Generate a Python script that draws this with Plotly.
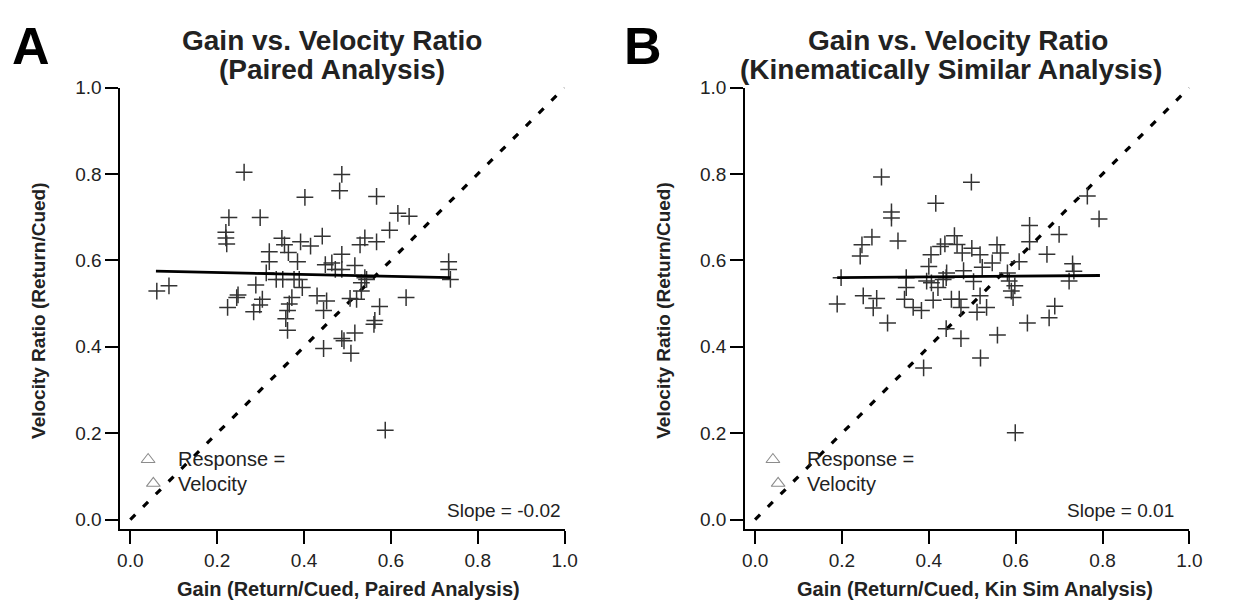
import plotly.graph_objects as go

# ---------------- data ----------------
a_gain = [0.262, 0.402, 0.227, 0.299, 0.220, 0.220, 0.222, 0.061, 0.089, 0.349, 0.355, 0.364,
          0.392, 0.415, 0.442, 0.320, 0.320, 0.385, 0.313, 0.449, 0.289, 0.336, 0.351, 0.377,
          0.389, 0.396, 0.248, 0.245, 0.224, 0.304, 0.298, 0.284, 0.372, 0.366, 0.362, 0.358,
          0.362, 0.430, 0.445, 0.452, 0.445, 0.487, 0.482, 0.567, 0.616, 0.642, 0.597, 0.540,
          0.529, 0.567, 0.487, 0.464, 0.472, 0.487, 0.517, 0.733, 0.733, 0.737, 0.540, 0.532,
          0.544, 0.532, 0.506, 0.521, 0.635, 0.574, 0.563, 0.561, 0.517, 0.487, 0.492, 0.508,
          0.587]
a_vr = [0.804, 0.746, 0.699, 0.699, 0.665, 0.652, 0.638, 0.529, 0.541, 0.651, 0.636, 0.618,
        0.643, 0.633, 0.656, 0.620, 0.597, 0.597, 0.571, 0.590, 0.543, 0.556, 0.556, 0.556,
        0.556, 0.537, 0.520, 0.514, 0.491, 0.510, 0.497, 0.481, 0.514, 0.499, 0.484, 0.465,
        0.438, 0.518, 0.484, 0.506, 0.396, 0.799, 0.761, 0.748, 0.709, 0.702, 0.670, 0.652,
        0.636, 0.643, 0.614, 0.594, 0.579, 0.579, 0.588, 0.597, 0.579, 0.556, 0.560, 0.548,
        0.556, 0.529, 0.512, 0.510, 0.514, 0.493, 0.461, 0.452, 0.432, 0.419, 0.414, 0.385,
        0.207]

b_gain = [0.291, 0.416, 0.314, 0.314, 0.269, 0.246, 0.242, 0.329, 0.427, 0.437, 0.405, 0.400,
          0.441, 0.198, 0.348, 0.348, 0.395, 0.406, 0.421, 0.433, 0.440, 0.189, 0.249, 0.280,
          0.272, 0.344, 0.364, 0.383, 0.410, 0.305, 0.440, 0.388, 0.498, 0.765, 0.792, 0.632,
          0.632, 0.700, 0.672, 0.608, 0.459, 0.465, 0.477, 0.499, 0.518, 0.557, 0.565, 0.546,
          0.523, 0.480, 0.503, 0.581, 0.585, 0.731, 0.734, 0.723, 0.598, 0.590, 0.594, 0.518,
          0.452, 0.470, 0.474, 0.511, 0.533, 0.690, 0.677, 0.627, 0.474, 0.558, 0.519, 0.599]
b_vr = [0.793, 0.732, 0.712, 0.698, 0.654, 0.636, 0.610, 0.645, 0.632, 0.638, 0.613, 0.586,
        0.571, 0.560, 0.560, 0.537, 0.552, 0.548, 0.537, 0.556, 0.560, 0.499, 0.518, 0.512,
        0.490, 0.510, 0.491, 0.484, 0.508, 0.455, 0.442, 0.351, 0.781, 0.749, 0.696, 0.681,
        0.643, 0.660, 0.614, 0.597, 0.657, 0.637, 0.617, 0.628, 0.613, 0.636, 0.617, 0.594,
        0.584, 0.576, 0.551, 0.571, 0.552, 0.592, 0.575, 0.552, 0.541, 0.529, 0.514, 0.518,
        0.510, 0.510, 0.491, 0.480, 0.491, 0.494, 0.467, 0.455, 0.419, 0.427, 0.374, 0.201]

a_fit_x = [0.059, 0.737]
a_fit_y = [0.575, 0.560]
b_fit_x = [0.189, 0.794]
b_fit_y = [0.560, 0.565]

unity_x = [0.0, 1.0]
unity_y = [0.0, 1.0]

legend_tri_x = [0.041, 0.053]
legend_tri_y = [0.139, 0.084]

ticks = [0.0, 0.2, 0.4, 0.6, 0.8, 1.0]
tick_text = ["0.0", "0.2", "0.4", "0.6", "0.8", "1.0"]

title_line1 = "Gain vs. Velocity Ratio"
title_line2 = ["(Paired Analysis)", "(Kinematically Similar Analysis)"]
x_titles = ["Gain (Return/Cued, Paired Analysis)", "Gain (Return/Cued, Kin Sim Analysis)"]
y_title = "Velocity Ratio (Return/Cued)"
slopes = ["Slope = -0.02", "Slope = 0.01"]
letters = ["A", "B"]
legend_words = ["Response =", "Velocity"]

# ---------------- geometry (reference pixels) ----------------
W, H = 1233, 606
FONT = "Arial, Liberation Sans, sans-serif"
TXT = "#222222"


def px(X):
    return X / W


def py(Y):
    return 1 - Y / H


fig = go.Figure()

panels = [
    dict(gx=a_gain, gy=a_vr, fx=a_fit_x, fy=a_fit_y, xa="x", ya="y", left=119, right=569),
    dict(gx=b_gain, gy=b_vr, fx=b_fit_x, fy=b_fit_y, xa="x2", ya="y2", left=752, right=1202),
]
top_px, bot_px = 79, 529
rng = [-0.0227, 1.0]

for i, p in enumerate(panels):
    fig.add_trace(go.Scatter(x=unity_x, y=unity_y, mode="lines", xaxis=p["xa"], yaxis=p["ya"],
                             line=dict(color="black", width=3.2, dash="7px,11px"),
                             showlegend=False, hoverinfo="skip"))
    fig.add_trace(go.Scatter(x=p["gx"], y=p["gy"], mode="markers", xaxis=p["xa"], yaxis=p["ya"],
                             marker=dict(symbol="cross-thin", size=12, color="#333333",
                                         line=dict(color="#333333", width=1.5)),
                             showlegend=False))
    fig.add_trace(go.Scatter(x=p["fx"], y=p["fy"], mode="lines", xaxis=p["xa"], yaxis=p["ya"],
                             line=dict(color="black", width=2.8),
                             showlegend=False))
    fig.add_trace(go.Scatter(x=legend_tri_x, y=legend_tri_y, mode="markers",
                             xaxis=p["xa"], yaxis=p["ya"],
                             marker=dict(symbol="triangle-up-open", size=12, color="#8c8c8c",
                                         line=dict(color="#8c8c8c", width=1.1)),
                             showlegend=False, hoverinfo="skip"))

axis_common = dict(range=rng, showgrid=False, zeroline=False, showline=True,
                   linecolor="black", linewidth=2, ticks="outside", ticklen=13,
                   tickwidth=2, tickcolor="black", tickvals=ticks, ticktext=tick_text,
                   tickfont=dict(family=FONT, size=19, color=TXT), fixedrange=True)

ydom = [py(bot_px), py(top_px)]
for i, p in enumerate(panels):
    suffix = "" if i == 0 else "2"
    fig.layout["xaxis" + suffix] = dict(axis_common, domain=[px(p["left"]), px(p["right"])],
                                        anchor="y" + suffix)
    fig.layout["yaxis" + suffix] = dict(axis_common, domain=ydom, anchor="x" + suffix)

annotations = []
title_cx = [333, 968]
title2_cx = [333, 960]
letter_cx = [28, 648]
xt_cx = [350, 985]
yt_cx = [36, 669]
slope_right = [567, 1188]
leg_text_x = [175, 813]

for i in range(2):
    annotations.append(dict(x=px(title_cx[i]), y=py(31), xref="paper", yref="paper",
                            text=title_line1, showarrow=False, xanchor="center", yanchor="middle",
                            font=dict(family=FONT, size=28, color=TXT, weight="bold")))
    annotations.append(dict(x=px(title2_cx[i]), y=py(61), xref="paper", yref="paper",
                            text=title_line2[i], showarrow=False, xanchor="center", yanchor="middle",
                            font=dict(family=FONT, size=28, color=TXT, weight="bold")))
    annotations.append(dict(x=px(letter_cx[i]), y=py(37), xref="paper", yref="paper",
                            text=letters[i], showarrow=False, xanchor="center", yanchor="middle",
                            font=dict(family=FONT, size=52, color="black", weight="bold")))
    annotations.append(dict(x=px(xt_cx[i]), y=py(590), xref="paper", yref="paper",
                            text=x_titles[i], showarrow=False, xanchor="center", yanchor="middle",
                            font=dict(family=FONT, size=20, color=TXT, weight="bold")))
    annotations.append(dict(x=px(yt_cx[i]), y=py(306), xref="paper", yref="paper",
                            text=y_title, showarrow=False, textangle=-90,
                            xanchor="center", yanchor="middle",
                            font=dict(family=FONT, size=19, color=TXT, weight="bold")))
    annotations.append(dict(x=px(slope_right[i]), y=py(510), xref="paper", yref="paper",
                            text=slopes[i], showarrow=False, xanchor="right", yanchor="middle",
                            font=dict(family=FONT, size=19, color=TXT)))
    annotations.append(dict(x=px(leg_text_x[i]), y=py(457), xref="paper", yref="paper",
                            text=legend_words[0], showarrow=False, xanchor="left", yanchor="middle",
                            font=dict(family=FONT, size=20, color=TXT)))
    annotations.append(dict(x=px(leg_text_x[i]), y=py(483), xref="paper", yref="paper",
                            text=legend_words[1], showarrow=False, xanchor="left", yanchor="middle",
                            font=dict(family=FONT, size=20, color=TXT)))

fig.update_layout(width=W, height=H, margin=dict(l=0, r=0, t=0, b=0),
                  paper_bgcolor="white", plot_bgcolor="white",
                  annotations=annotations, showlegend=False,
                  font=dict(family=FONT, color=TXT))

fig.write_html("out.html",
               config={"displayModeBar": False, "staticPlot": True},
               post_script="document.body.style.margin='0px';"
                           "document.body.style.overflow='hidden';")
